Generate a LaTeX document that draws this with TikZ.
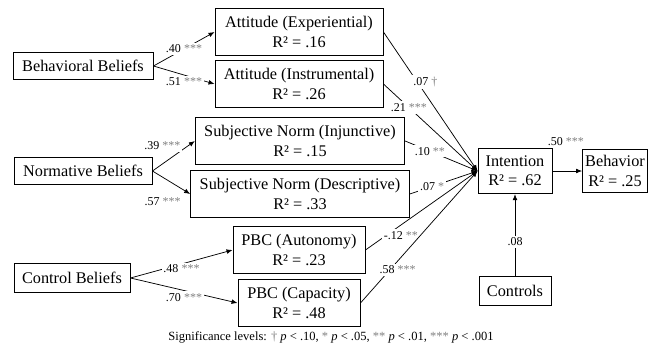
\documentclass[tikz,border=0pt]{standalone}
\usepackage{fontspec}
\setmainfont{Liberation Serif}
\usepackage{xcolor}
\usetikzlibrary{arrows.meta}
\definecolor{uStar}{HTML}{808080}
\tikzset{
  blk/.style={draw, line width=0.7pt, align=center, inner sep=2pt,
              font=\fontsize{12.2}{14.3}\selectfont},
  two/.style={blk, minimum height=35pt},
  one/.style={blk, minimum height=20pt},
  flow/.style={-{Latex[length=4.5pt, width=3.6pt]}, line width=0.55pt},
  % coefficients sit ON the path: opaque, so the line breaks round them
  lbl/.style={font=\fontsize{9}{10}\selectfont, fill=white, inner sep=1.5pt},
  note/.style={font=\fontsize{9.4}{11}\selectfont, inner sep=1pt},
}
\newcommand{\sig}[1]{{\color{uStar}#1}}

\begin{document}
\begin{tikzpicture}[x=0.75pt, y=-0.75pt]
\useasboundingbox (0,0) rectangle (662,351);

%% ── beliefs, left ────────────────────────────────────────────────────────
\node[one, minimum width=105pt] (bb)  at (83,66)  {Behavioral Beliefs};
\node[one, minimum width=103.5pt] (nb) at (83,171) {Normative Beliefs};
\node[one, minimum width=87pt, minimum height=22pt] (cb) at (72,278) {Control Beliefs};

%% ── the six components ───────────────────────────────────────────────────
\node[two, minimum width=126pt] (attexp) at (299,32)
  {Attitude (Experiential)\\R² = .16};
\node[two, minimum width=126pt] (attins) at (299,84)
  {Attitude (Instrumental)\\R² = .26};
\node[two, minimum width=157pt] (sninj) at (300,141)
  {Subjective Norm (Injunctive)\\R² = .15};
\node[two, minimum width=164pt] (sndesc) at (300,194)
  {Subjective Norm (Descriptive)\\R² = .33};
\node[two, minimum width=99pt] (pbca) at (299,250)
  {PBC (Autonomy)\\R² = .23};
\node[two, minimum width=91.5pt] (pbcc) at (299,303)
  {PBC (Capacity)\\R² = .48};

%% ── outcome, right ───────────────────────────────────────────────────────
\node[two, minimum width=55.5pt, minimum height=34pt] (int) at (515,171)
  {Intention\\R² = .62};
\node[two, minimum width=48pt, minimum height=32pt] (beh) at (615,171)
  {Behavior\\R² = .25};
\node[one, minimum width=54pt, minimum height=21.5pt] (ctrl) at (515,291)
  {Controls};

%% ── beliefs to components ────────────────────────────────────────────────
\draw[flow] (bb.east) -- node[lbl] {.40 \sig{***}} (attexp.west);
\draw[flow] (bb.east) -- node[lbl, yshift=-5pt] {.51 \sig{***}} (attins.west);
\draw[flow] (nb.east) -- node[lbl, xshift=-8.5pt, yshift=7.5pt] {.39 \sig{***}}
            (sninj.west);
\draw[flow] (nb.east) -- node[lbl, xshift=-6.5pt, yshift=-14.5pt] {.57 \sig{***}}
            (sndesc.west);
\draw[flow] (cb.east) -- node[lbl, yshift=-3.5pt] {.48 \sig{***}} (pbca.west);
\draw[flow] (cb.east) -- node[lbl, yshift=-5pt] {.70 \sig{***}} (pbcc.west);

%% ── components to intention ──────────────────────────────────────────────
\draw[flow] (attexp.east) -- node[lbl, pos=0.36, xshift=6pt] {.07 \sig{†}} (int.west);
\draw[flow] (attins.east) -- node[lbl, pos=0.27] {.21 \sig{***}} (int.west);
\draw[flow] (sninj.east) -- node[lbl, pos=0.34] {.10 \sig{**}} (int.west);
\draw[flow] (sndesc.east) -- node[lbl, pos=0.33] {.07 \sig{*}} (int.west);
\draw[flow] (pbca.east) -- node[lbl, pos=0.22, xshift=8pt, yshift=-2pt] {-.12 \sig{**}}
            (int.west);
\draw[flow] (pbcc.east) -- node[lbl, pos=0.25, xshift=6pt] {.58 \sig{***}} (int.west);

%% ── intention onward ─────────────────────────────────────────────────────
\draw[flow] (int.east) -- node[lbl, yshift=22pt, xshift=-1pt] {.50 \sig{***}} (beh.west);
\draw[flow] (ctrl.north) -- node[lbl, pos=0.42] {.08} (int.south);

\node[note] (sig) at (331,337)
  {Significance levels: \sig{†} \textit{p} < .10, \sig{*} \textit{p} < .05,
   \sig{**} \textit{p} < .01, \sig{***} \textit{p} < .001};

\end{tikzpicture}
\end{document}
